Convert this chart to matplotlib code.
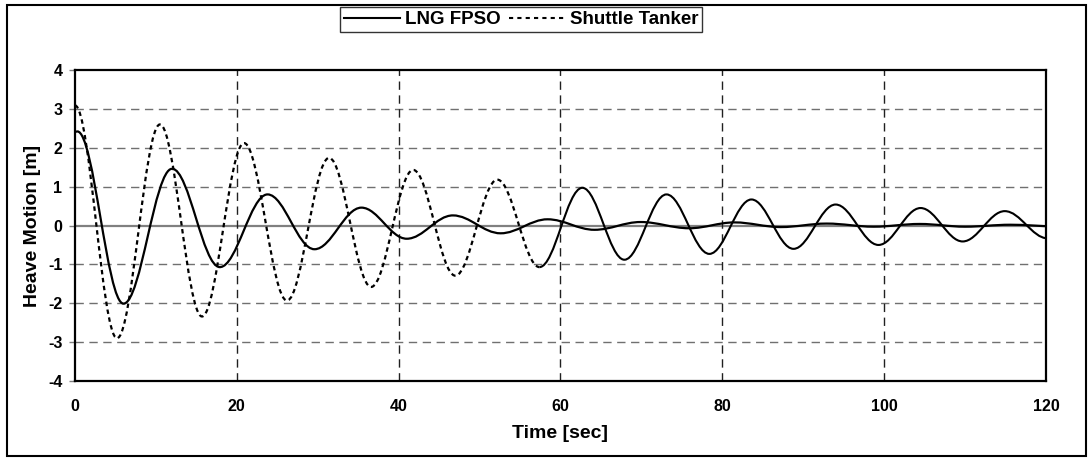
import matplotlib
matplotlib.use('Agg')
import matplotlib.pyplot as plt
from matplotlib.path import Path
from matplotlib.patches import PathPatch, Rectangle
from matplotlib.lines import Line2D

plt.rcParams['font.family'] = ['Liberation Sans', 'DejaVu Sans']
plt.rcParams['font.weight'] = 'bold'
plt.rcParams['axes.unicode_minus'] = False

# Peaks and troughs (time [s], heave [m])
fpso_t = [0.0, 0.3, 6.0, 12.0, 17.9, 23.8, 29.6, 35.4, 41.0, 46.7, 52.6, 58.4,
          64.2, 69.9, 75.9, 81.5, 87.2, 92.9, 98.7, 104.4, 110.0, 115.6, 121.2]
fpso_y = [2.41, 2.42, -2.01, 1.46, -1.07, 0.80, -0.61, 0.46, -0.34, 0.26, -0.20, 0.16,
          -0.11, 0.09, -0.07, 0.08, -0.04, 0.05, -0.03, 0.04, -0.03, 0.02, -0.02]

tanker_t = [0.0, 5.2, 10.5, 15.7, 20.9, 26.2, 31.4, 36.6, 41.8, 47.0, 52.2, 57.4,
            62.7, 67.9, 73.1, 78.4, 83.6, 88.8, 94.0, 99.3, 104.5, 109.7, 114.9, 120.2]
tanker_y = [3.09, -2.90, 2.60, -2.34, 2.12, -1.93, 1.74, -1.58, 1.43, -1.29, 1.18, -1.07,
            0.97, -0.88, 0.80, -0.73, 0.67, -0.60, 0.54, -0.50, 0.45, -0.41, 0.37, -0.33]

x_ticks = [0, 20, 40, 60, 80, 100, 120]
y_ticks = [-4, -3, -2, -1, 0, 1, 2, 3, 4]

# smoothed line between extrema (like Excel's smoothed line), horizontal tangents
K = 0.3634


def smooth_path(t, y):
    verts = [(t[0], y[0])]
    codes = [Path.MOVETO]
    for i in range(1, len(t)):
        dt = t[i] - t[i - 1]
        verts += [(t[i - 1] + K * dt, y[i - 1]), (t[i] - K * dt, y[i]), (t[i], y[i])]
        codes += [Path.CURVE4] * 3
    return Path(verts, codes)


fig = plt.figure(figsize=(10.88, 4.58), dpi=100)
ax = fig.add_axes([0.0689, 0.1681, 0.8925, 0.6790])

ax.set_xlim(0, 120)
ax.set_ylim(-4, 4)
ax.set_xticks(x_ticks)
ax.set_yticks(y_ticks)

# gridlines
for yv in y_ticks:
    if yv in (-4, 4):
        continue
    if yv == 0:
        ax.axhline(0, color='#808080', lw=1.6, zorder=1)
    else:
        ax.axhline(yv, color='#707070', lw=1.0, dashes=(6, 4), zorder=1)
for xv in x_ticks[1:-1]:
    ax.axvline(xv, color='#202020', lw=1.0, dashes=(6, 4), zorder=1)

ax.add_patch(PathPatch(smooth_path(fpso_t, fpso_y), fill=False, color='black',
                       lw=1.6, zorder=3))

split = 11
dash_style = (0, (2.0, 1.6))
ax.add_patch(PathPatch(smooth_path(tanker_t[:split + 1], tanker_y[:split + 1]), fill=False,
                       color='black', lw=1.6, linestyle=dash_style, capstyle='butt', zorder=3))
ax.add_patch(PathPatch(smooth_path(tanker_t[split:], tanker_y[split:]), fill=False,
                       color='black', lw=1.5, zorder=3))

for s in ax.spines.values():
    s.set_linewidth(1.6)
    s.set_color('black')

ax.tick_params(axis='x', length=0, pad=13, labelsize=11.5)
ax.tick_params(axis='y', length=4, width=1, color='#808080', pad=5, labelsize=11.5)
for lab in ax.get_xticklabels() + ax.get_yticklabels():
    lab.set_fontweight('bold')

ax.set_xlabel('Time [sec]', fontsize=14, fontweight='bold', labelpad=8)
ax.set_ylabel('Heave Motion [m]', fontsize=14, fontweight='bold', labelpad=5)

handles = [Line2D([], [], color='black', lw=1.5),
           Line2D([], [], color='black', lw=1.5, linestyle=(0, (2.0, 2.0)))]
leg = fig.legend(handles, ['LNG FPSO', 'Shuttle Tanker'], loc='center',
                 bbox_to_anchor=(0.479, 0.957), ncol=2, frameon=True, fancybox=False,
                 prop={'weight': 'bold', 'size': 13.5}, handlelength=3.0,
                 handletextpad=0.25, columnspacing=0.45, borderpad=0.2,
                 borderaxespad=0)
leg.get_frame().set_edgecolor('black')
leg.get_frame().set_linewidth(1.0)

# outer chart border
fig.patches.append(Rectangle((7 / 1088, 2 / 458), 1079 / 1088, 451 / 458,
                             transform=fig.transFigure, fill=False,
                             edgecolor='black', lw=1.5))

plt.savefig('out.png', dpi=100)
